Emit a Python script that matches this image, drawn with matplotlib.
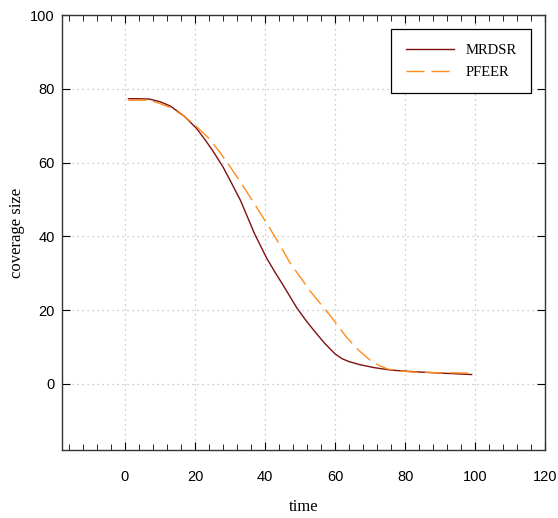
import matplotlib.pyplot as plt
from matplotlib.ticker import MultipleLocator

# -------- DATA --------
mrdsr_t = [1, 4, 7, 10, 13, 17, 20.5, 23, 25, 28, 30.5, 33, 35, 37, 40.5, 43, 45, 49, 51.5, 54, 57, 60, 62, 64, 67, 71, 76, 82, 90, 99]
mrdsr_y = [77.3, 77.3, 77.2, 76.5, 75.3, 72.5, 69.2, 66.0, 63.3, 58.8, 54.3, 49.7, 45.2, 40.7, 34.0, 30.0, 27.0, 20.7, 17.4, 14.4, 11.0, 8.1, 6.8, 6.0, 5.2, 4.4, 3.7, 3.3, 2.9, 2.5]

pfeer_t = [1, 7, 10, 13, 17, 20.5, 24, 27, 30, 33, 36.5, 40.5, 44, 47, 50, 53, 56, 58.6, 61, 63.3, 66.5, 70, 72.5, 75, 78, 82, 90, 98]
pfeer_y = [76.9, 76.9, 76.0, 74.9, 72.5, 69.7, 66.5, 62.9, 58.9, 54.7, 49.5, 43.5, 38.0, 33.0, 29.0, 25.0, 21.5, 18.5, 15.5, 12.6, 9.3, 6.4, 5.0, 4.0, 3.5, 3.2, 3.0, 2.9]

series_names = ["MRDSR", "PFEER"]

# -------- FIGURE --------
fig = plt.figure(figsize=(5.58, 5.18), dpi=100)
ax = fig.add_axes([0.111, 0.131, 0.866, 0.840])

ax.plot(mrdsr_t, mrdsr_y, color='#7f1010', lw=1.0, label=series_names[0])
ax.plot(pfeer_t, pfeer_y, color='#ff8c1a', lw=1.0, ls=(0, (13, 5)), label=series_names[1])

ax.set_xlim(-18, 120)
ax.set_ylim(-18, 100)
ax.xaxis.set_major_locator(MultipleLocator(20))
ax.xaxis.set_minor_locator(MultipleLocator(4))
ax.set_yticks([0, 20, 40, 60, 80, 100])

ax.grid(True, which='major', color='#bbbbbb', ls=(0, (1, 3)), lw=0.9)

ax.tick_params(axis='x', which='both', direction='in', top=True, bottom=True)
ax.tick_params(axis='x', which='major', length=6, pad=14)
ax.tick_params(axis='x', which='minor', length=4)
ax.tick_params(axis='y', which='major', direction='in', left=True, right=True, length=6, pad=5)
ax.tick_params(axis='both', labelsize=10.5)

for lab in ax.get_xticklabels() + ax.get_yticklabels():
    lab.set_family('Liberation Sans')

for sp in ax.spines.values():
    sp.set_color('#333333')
    sp.set_linewidth(1.0)

ax.set_xlabel("time", family='Liberation Serif', fontsize=12, labelpad=11)
ax.set_ylabel("coverage size", family='Liberation Serif', fontsize=12, labelpad=4)

leg = ax.legend(loc='upper right', borderaxespad=0.95,
                prop={'family': 'Liberation Serif', 'size': 10.5},
                fancybox=False, edgecolor='black', framealpha=1,
                handlelength=3.3, handletextpad=0.8, borderpad=1.0,
                labelspacing=0.6)
leg.get_frame().set_linewidth(0.9)

fig.savefig("out.png", dpi=100)
